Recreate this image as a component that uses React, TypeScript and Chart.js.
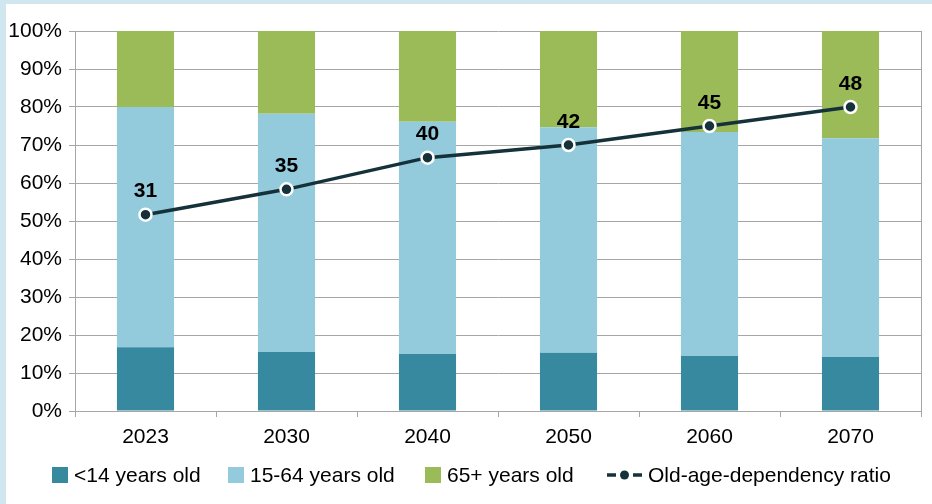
import React, { useEffect, useRef } from "react";
import { Chart, registerables } from "chart.js";

Chart.register(...registerables);

const years = ["2023", "2030", "2040", "2050", "2060", "2070"];
const under14 = [16.8, 15.5, 15.0, 15.3, 14.5, 14.2];
const age15to64 = [63.2, 62.7, 61.1, 59.4, 58.9, 57.6];
const over65 = [20.0, 21.8, 23.9, 25.3, 26.6, 28.2];
const dependencyRatio = [31, 35, 40, 42, 45, 48];

const seriesNames = ["<14 years old", "15-64 years old", "65+ years old", "Old-age-dependency ratio"];
const colors = ["#3789a0", "#93cbdd", "#9bbb59", "#15323b"];

const FONT = "'Liberation Sans', Arial, sans-serif";
const GRID = "#a6a6a6";

const labelPlugin = {
  id: "lineLabels",
  afterDatasetsDraw(chart: any) {
    const ctx = chart.ctx;
    const meta = chart.getDatasetMeta(3);
    ctx.save();
    ctx.font = `bold 21px ${FONT}`;
    ctx.fillStyle = "#000000";
    ctx.textAlign = "center";
    ctx.textBaseline = "middle";
    meta.data.forEach((pt: any, i: number) => {
      ctx.fillText(String(dependencyRatio[i]), pt.x, pt.y - 23);
    });
    ctx.restore();
  },
  beforeDatasetsDraw(chart: any) {
    const { ctx, chartArea } = chart;
    ctx.save();
    ctx.strokeStyle = GRID;
    ctx.lineWidth = 1;
    ctx.beginPath();
    ctx.moveTo(Math.round(chartArea.right) + 0.5, chartArea.top);
    ctx.lineTo(Math.round(chartArea.right) + 0.5, chartArea.bottom);
    ctx.stroke();
    ctx.restore();
  },
};

function LegendItem({ idx, left }: { idx: number; left: number }) {
  const isLine = idx === 3;
  return (
    <div style={{ position: "absolute", left, top: 462, height: 26, display: "flex", alignItems: "center" }}>
      {isLine ? (
        <svg width={36} height={16} style={{ marginRight: 5 }}>
          <line x1={0} y1={8} x2={9} y2={8} stroke={colors[3]} strokeWidth={3.5} />
          <circle cx={17.5} cy={8} r={4.5} fill={colors[3]} />
          <line x1={26} y1={8} x2={35} y2={8} stroke={colors[3]} strokeWidth={3.5} />
        </svg>
      ) : (
        <div style={{ width: 16, height: 16, background: colors[idx], marginRight: 6 }} />
      )}
      <span style={{ fontFamily: FONT, fontSize: 21, color: "#000", whiteSpace: "nowrap" }}>{seriesNames[idx]}</span>
    </div>
  );
}

export default function App() {
  const ref = useRef<HTMLCanvasElement | null>(null);

  useEffect(() => {
    if (!ref.current) return;
    const chart = new Chart(ref.current, {
      type: "bar",
      data: {
        labels: years,
        datasets: [
          { type: "bar", label: seriesNames[0], data: under14, backgroundColor: colors[0], stack: "s", order: 1, barPercentage: 0.405, categoryPercentage: 1 },
          { type: "bar", label: seriesNames[1], data: age15to64, backgroundColor: colors[1], stack: "s", order: 1, barPercentage: 0.405, categoryPercentage: 1 },
          { type: "bar", label: seriesNames[2], data: over65, backgroundColor: colors[2], stack: "s", order: 1, barPercentage: 0.405, categoryPercentage: 1 },
          {
            type: "line",
            label: seriesNames[3],
            data: dependencyRatio,
            yAxisID: "y2",
            borderColor: colors[3],
            borderWidth: 3.5,
            pointRadius: 6,
            pointBorderWidth: 2.5,
            pointBackgroundColor: colors[3],
            pointBorderColor: "#ffffff",
            order: 0,
            tension: 0,
          } as any,
        ],
      },
      options: {
        animation: false,
        responsive: false,
        maintainAspectRatio: false,
        devicePixelRatio: 1,
        layout: { padding: { top: 27, right: 11, left: 0, bottom: 43 } },
        plugins: { legend: { display: false }, tooltip: { enabled: false } },
        scales: {
          x: {
            stacked: true,
            offset: true,
            grid: { drawOnChartArea: false, drawTicks: true, tickLength: 6, color: GRID, offset: true },
            border: { display: true, color: GRID },
            ticks: { font: { family: FONT, size: 21 }, color: "#000", padding: 8, maxRotation: 0 },
            afterFit: (s: any) => { s.height = 50; },
          },
          y: {
            stacked: true,
            min: 0,
            max: 100,
            grid: { color: GRID, tickLength: 6, lineWidth: 1 },
            border: { display: true, color: GRID },
            ticks: {
              stepSize: 10,
              font: { family: FONT, size: 21 },
              color: "#000",
              padding: 7,
              callback: (v: any) => `${v}%`,
            },
            afterFit: (s: any) => { s.width = 69; },
          },
          y2: { display: false, min: 0, max: 60, stacked: false },
        },
      },
      plugins: [labelPlugin],
    });
    return () => chart.destroy();
  }, []);

  return (
    <div style={{ position: "fixed", left: 0, top: 0, width: 932, height: 504, background: "#d0e7f0", overflow: "hidden" }}>
      <div style={{ position: "absolute", left: 6, top: 4, width: 926, height: 500, background: "#ffffff" }}>
        <canvas ref={ref} width={926} height={500} style={{ position: "absolute", left: 0, top: 0, width: 926, height: 500 }} />
      </div>
      <LegendItem idx={0} left={52} />
      <LegendItem idx={1} left={228} />
      <LegendItem idx={2} left={425} />
      <LegendItem idx={3} left={607} />
    </div>
  );
}
